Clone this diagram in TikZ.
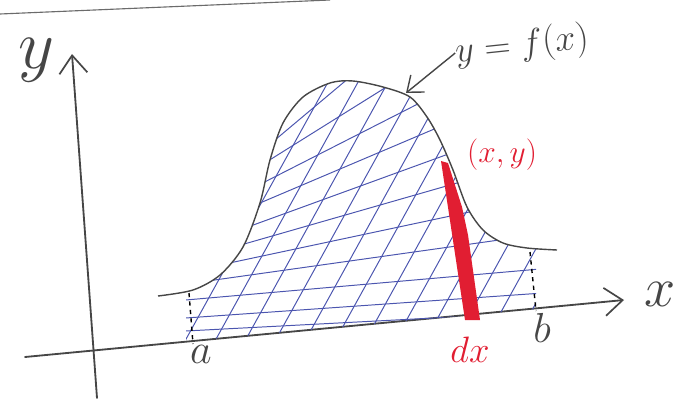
\documentclass[tikz,border=0pt]{standalone}
\usepackage{amsmath}
\usepackage{graphicx}
\usepackage{xcolor}
\usepackage{tikz}
\usetikzlibrary{positioning, arrows.meta}

\definecolor{pencil}{RGB}{70,70,70}
\definecolor{hatchblue}{RGB}{75,85,175}
\definecolor{stripred}{RGB}{225,30,50}

\begin{document}
\begin{tikzpicture}[
        x=0.025cm, y=-0.025cm,
        every node/.style={font=\Huge},
        axis/.style={draw=pencil, line width=1.3pt, line cap=round},
        axistip/.style={-{Straight Barb[length=4.5mm, width=7mm, line width=1.2pt]}},
        curve/.style={draw=pencil, line width=1pt},
        hatch/.style={draw=hatchblue, line width=0.7pt},
        bound/.style={draw=black, line width=1pt, dash pattern=on 3pt off 3pt},
        strip/.style={fill=stripred},
        pointer/.style={draw=pencil, line width=1pt, -{Straight Barb[length=3.5mm, width=5.5mm, line width=1pt]}},
        lbl/.style={inner sep=0pt, text=pencil},
        redlbl/.style={inner sep=0pt, text=stripred}
    ]
        \useasboundingbox (0,0) rectangle (689,401);

        % paper edge
        \draw[draw=pencil!80, line width=0.8pt] (0,14) -- (330,0);

        % axes
        \coordinate (ybot) at (97,398);
        \coordinate (ytop) at (72,54);
        \coordinate (xleft) at (25,357);
        \coordinate (xright) at (624,300);
        \draw[axis, axistip] (ybot) -- (ytop);
        \draw[axis, axistip] (xleft) -- (xright);
        \node[lbl] (ylbl) at (36,60) {\scalebox{2}{$y$}};
        \node[lbl] (xlbl) at (660,294) {\scalebox{1.6}{$x$}};

        % hatched area between a and b
        \begin{scope}
            \clip (158,344) -- plot[smooth] coordinates {(158,296) (193,290) (220,275) (243,247) (260,203) (270,160) (283,123) (303,97) (330,83) (353,81) (383,87) (410,97) (427,117) (440,140) (453,170) (467,207) (483,230) (503,243) (527,248) (557,250)} -- (557,307) -- cycle;
            \clip (186,0) rectangle (536,401);
            \foreach \xx in {120,150,...,540}
                \draw[hatch] (\xx,350) -- ++(210,-380);
            \foreach \yy/\ang in {325/3, 310/4, 290/5, 268/8, 248/12, 228/16, 208/20, 186/23, 164/27, 141/32, 119/40}
                \draw[hatch] (300,\yy) ++(-\ang:-300) -- ++(-\ang:600);
        \end{scope}

        % the curve
        \draw[curve] plot[smooth] coordinates {(158,296) (193,290) (220,275) (243,247) (260,203) (270,160) (283,123) (303,97) (330,83) (353,81) (383,87) (410,97) (427,117) (440,140) (453,170) (467,207) (483,230) (503,243) (527,248) (557,250)};

        % limits a and b
        \coordinate (atop) at (189,293);
        \coordinate (abot) at (193,344);
        \coordinate (btop) at (530,252);
        \coordinate (bbot) at (536,311);
        \draw[bound] (atop) -- (abot);
        \draw[bound] (btop) -- (bbot);
        \node[lbl] (albl) at (201,354) {\scalebox{1.2}{$a$}};
        \node[lbl] (blbl) at (542,328) {\scalebox{1.2}{$b$}};

        % strip dx
        \coordinate (pt) at (441,161);
        \fill[strip] (pt) -- (448,163) -- (462,207) -- (468,235) -- (480,320) -- (465,320) -- cycle;
        \node[redlbl] (ptlbl) at (502,155) {\scalebox{0.9}{$(x,y)$}};
        \node[redlbl] (dxlbl) at (470,350) {\scalebox{1.05}{$dx$}};

        % function label
        \coordinate (peak) at (406,93);
        \node[lbl, rotate=6] (fxlbl) at (522,46) {\scalebox{1.05}{$y=f(x)$}};
        \draw[pointer] (fxlbl.west) -- (peak);
    \end{tikzpicture}
\end{document}
